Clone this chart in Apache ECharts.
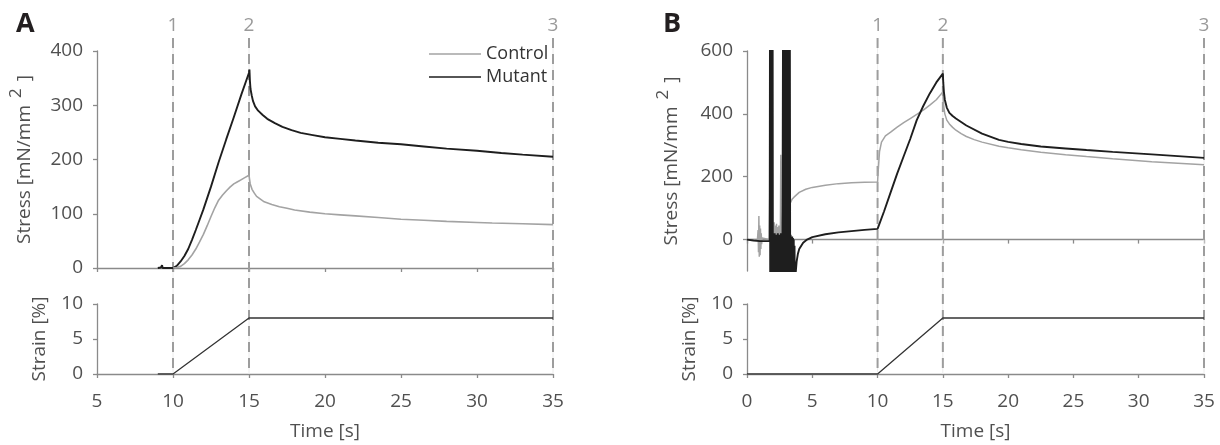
<!DOCTYPE html>
<html>
<head>
<meta charset="utf-8">
<script src="https://cdn.jsdelivr.net/npm/echarts@6/dist/echarts.min.js"></script>
<style>
html,body{margin:0;padding:0;background:#fff;}
#c{width:1220px;height:445px;}
</style>
</head>
<body>
<div id="c"></div>
<script>
// ---------- Panel A ----------
const aCtrlT = [10.0, 10.25, 10.5, 10.75, 11.0, 11.25, 11.5, 11.75, 12.0, 12.25, 12.5, 12.75, 13.0, 13.25, 13.5, 13.75, 14.0, 14.25, 14.5, 14.75, 15.0,
  15.03, 15.08, 15.2, 15.35, 15.5, 15.75, 16, 16.5, 17, 17.5, 18, 19, 20, 21, 22, 23.5, 25, 26.5, 28, 30, 31, 33, 35];
const aCtrlV = [0, 1, 3, 8, 15, 24, 35, 48, 62, 78, 95, 111, 125, 134, 142, 149, 155, 159, 163, 167, 171,
  165, 155, 145, 138, 132, 127, 122, 117, 113, 110, 107, 103, 100, 98, 96, 93, 90, 88, 86, 84, 83, 81.5, 80];
const aMutT = [9.0, 9.2, 9.28, 9.32, 9.4, 9.6, 10.0, 10.25, 10.5, 10.75, 11, 11.25, 11.5, 11.75, 12, 12.5, 13, 13.5, 14, 14.5, 15,
  15.03, 15.06, 15.1, 15.18, 15.26, 15.4, 15.6, 15.9, 16.2, 16.7, 17.2, 17.8, 18.4, 19.2, 20, 21, 22, 23.5, 25, 26.5, 28, 30, 31.6, 33, 35];
const aMutV = [0, 1, 5, 0, 1, 0, 0, 4, 12, 22, 35, 52, 70, 89, 108, 150, 195, 237, 278, 320, 360,
  366, 345, 330, 318, 308, 298, 290, 282, 275, 267, 260, 254, 249, 245, 241, 238, 235, 231, 228, 224, 220, 216, 212, 209, 205];
const aStrainT = [9.0, 10, 15, 35];
const aStrainV = [0, 0, 8, 8];

// ---------- Panel B ----------
const bMutT = [0, 0.5, 1.0, 1.5, 1.74,
  1.76, 1.78, 1.80, 1.82, 1.84, 1.86, 1.88, 1.90, 1.92, 1.94, 1.96, 1.98,
  2.00, 2.03, 2.06, 2.09, 2.12, 2.15, 2.18, 2.21, 2.24, 2.27, 2.30, 2.33, 2.36, 2.39, 2.42, 2.45, 2.48, 2.51, 2.54, 2.57, 2.60, 2.63, 2.66, 2.69, 2.72,
  2.76, 2.78, 2.80, 2.82, 2.84, 2.86, 2.88, 2.90, 2.92, 2.94, 2.96, 2.98, 3.00, 3.02, 3.04, 3.06, 3.08, 3.10, 3.12, 3.14, 3.16, 3.18, 3.20, 3.22, 3.24, 3.26, 3.28,
  3.31, 3.34, 3.37, 3.40, 3.43, 3.46, 3.49, 3.52, 3.55, 3.58, 3.61, 3.64, 3.67,
  3.72, 3.8, 3.9, 4.0, 4.3, 4.6, 5, 6, 7, 8, 9, 10,
  10.5, 11, 11.5, 12, 12.5, 13, 13.5, 14, 14.5, 15,
  15.03, 15.08, 15.15, 15.3, 15.5, 15.75, 16, 16.4, 16.8, 18, 19.3, 20, 21, 22.5, 24.4, 26, 28, 31, 33, 35];
const bMutV = [0, -3, -5, -5, -5,
  700, -200, 700, -200, 700, -200, 700, -200, 700, -200, 700, -200,
  15, -200, 10, -200, 20, -200, 5, -200, 15, -200, 10, -200, 20, -200, 5, -200, 15, -200, 10, -200, 20, -200, 5, -200, 10,
  700, -200, 700, -200, 700, -200, 700, -200, 700, -200, 700, -200, 700, -200, 700, -200, 700, -200, 700, -200, 700, -200, 700, -200, 700, -200, 700,
  -200, 15, -200, 10, -200, 10, -200, 5, -200, 0, -200, -20, -200,
  -110, -70, -45, -30, -10, 0, 8, 17, 23, 27, 31, 34,
  90, 150, 210, 265, 320, 380, 425, 465, 500, 528,
  500, 470, 445, 420, 403, 393, 385, 374, 363, 337, 317, 311, 304, 296, 290, 285, 279, 271, 265.5, 260];

const bCtrlT = [0, 0.8, 0.85, 0.88, 0.91, 0.94, 0.97, 1.0, 1.03, 1.06, 1.09, 1.12, 1.15, 1.2, 1.7,
  1.83, 1.86, 1.95, 1.97,
  2.02, 2.05, 2.08, 2.11, 2.14, 2.17, 2.20, 2.23, 2.26, 2.29, 2.32, 2.35, 2.38, 2.41, 2.44, 2.47, 2.50, 2.53, 2.56, 2.59, 2.62, 2.65, 2.68, 2.71,
  2.95, 2.98, 3.18, 3.21,
  3.30, 3.45, 3.6, 4.0, 4.5, 5, 6, 7, 8, 9, 10,
  10.05, 10.15, 10.3, 10.6, 11, 11.5, 12, 12.5, 13, 13.5, 14, 14.5, 15,
  15.03, 15.08, 15.15, 15.3, 15.5, 15.75, 16, 16.4, 16.8, 17.4, 18, 19.3, 20, 21, 22.5, 24.4, 26, 28, 31, 33, 35];
const bCtrlV = [0, 0, 30, -40, 75, -55, 45, -50, 35, -30, 20, -15, 5, 0, 0,
  420, -100, 650, -100,
  40, -60, 55, -80, 30, -50, 45, -90, 50, -70, 35, -60, 40, -80, 45, -100, 30, -70, 50, 270, -90, 40, -60, 20,
  600, -100, 520, -100,
  115, 128, 135, 150, 160, 166, 173, 178, 181, 182, 183,
  220, 280, 310, 330, 342, 358, 372, 385, 398, 412, 428, 445, 470,
  445, 420, 400, 380, 368, 357, 348, 337, 328, 318, 310, 297, 292, 286, 278, 270, 264, 257, 248, 243, 238];
const bStrainT = [0, 10, 15, 35];
const bStrainV = [0, 0, 8, 8];

// ---------- markers ----------
const markerTimes = [10, 15, 35];
const markerLabels = ['1', '2', '3'];
const stressTicksB = [0, 200, 400, 600];

const pairs = (t, v) => t.map((x, i) => [x, v[i]]);

const FONT = 'Open Sans';
const AX = '#8a8a8a';
const TXT = '#505050';
const CTRL = '#a3a3a3';
const MUT = '#1e1e1e';
const FS = 19;

function xAxisCfg(grid, min, showLabels, name) {
  return {
    type: 'value', gridIndex: grid, min: min, max: 35, interval: 5,
    axisLine: {onZero: true, lineStyle: {color: AX, width: 1.3}},
    axisTick: {show: true, inside: false, length: 4, lineStyle: {color: AX, width: 1.3}},
    axisLabel: {show: showLabels, color: TXT, fontSize: FS, fontFamily: FONT, margin: 18},
    splitLine: {show: false},
    name: name || '', nameLocation: 'middle', nameGap: 48,
    nameTextStyle: {color: TXT, fontSize: FS, fontFamily: FONT}
  };
}
const stressName = '{a|Stress [mN/mm}{s|2}{a|]}';
const stressRich = {
  a: {color: TXT, fontSize: FS, fontFamily: FONT},
  s: {color: TXT, fontSize: 17, fontFamily: FONT, padding: [0, 7, 16, 7]}
};
function yAxisCfg(grid, min, max, interval, name, gap, rich, extra) {
  const c = {
    type: 'value', gridIndex: grid, min: min, max: max, interval: interval,
    axisLine: {show: true, lineStyle: {color: AX, width: 1.3}},
    axisTick: {show: true, length: 4, lineStyle: {color: AX, width: 1.3}},
    axisLabel: {color: TXT, fontSize: FS, fontFamily: FONT, margin: 14},
    splitLine: {show: false},
    name: name, nameLocation: 'middle', nameGap: gap,
    nameTextStyle: Object.assign({color: TXT, fontSize: FS, fontFamily: FONT}, rich ? {rich: rich} : {})
  };
  if (extra) {
    c.axisLabel.customValues = extra;
    c.axisTick.customValues = extra;
  }
  return c;
}

const chart = echarts.init(document.getElementById('c'), null, {renderer: 'canvas'});
const option = {
  animation: false,
  backgroundColor: '#fff',
  title: [
    {text: 'A', left: 11, top: 6, textStyle: {fontSize: 27, fontWeight: 'bold', color: '#231f20', fontFamily: FONT}},
    {text: 'B', left: 658, top: 6, textStyle: {fontSize: 27, fontWeight: 'bold', color: '#231f20', fontFamily: FONT}}
  ],
  legend: {
    data: ['Control', 'Mutant'], orient: 'vertical', left: 424, top: 40,
    icon: 'rect', itemWidth: 52, itemHeight: 1.6, itemGap: 5,
    textStyle: {color: '#333', fontSize: 18, fontFamily: FONT}
  },
  grid: [
    {left: 97, width: 456, top: 51, height: 217},
    {left: 97, width: 456, top: 304, height: 70},
    {left: 747, width: 457, top: 51, height: 220},
    {left: 747, width: 457, top: 304, height: 70}
  ],
  xAxis: [
    xAxisCfg(0, 5, false),
    xAxisCfg(1, 5, true, 'Time [s]'),
    xAxisCfg(2, 0, false),
    xAxisCfg(3, 0, true, 'Time [s]')
  ],
  yAxis: [
    yAxisCfg(0, 0, 400, 100, stressName, 56, stressRich),
    yAxisCfg(1, 0, 10, 5, 'Strain [%]', 48),
    yAxisCfg(2, -100, 600, 100, stressName, 59, stressRich, stressTicksB),
    yAxisCfg(3, 0, 10, 5, 'Strain [%]', 48)
  ],
  series: [
    {name: 'Mutant', type: 'line', xAxisIndex: 0, yAxisIndex: 0, data: pairs(aMutT, aMutV), showSymbol: false, color: MUT, lineStyle: {color: MUT, width: 1.9}, z: 3},
    {name: 'Control', type: 'line', xAxisIndex: 0, yAxisIndex: 0, data: pairs(aCtrlT, aCtrlV), showSymbol: false, color: CTRL, lineStyle: {color: CTRL, width: 1.6}, z: 4},
    {name: 'StrainA', type: 'line', xAxisIndex: 1, yAxisIndex: 1, data: pairs(aStrainT, aStrainV), showSymbol: false, color: MUT, lineStyle: {color: '#333', width: 1.3}, z: 3},
    {name: 'Control', type: 'line', xAxisIndex: 2, yAxisIndex: 2, data: pairs(bCtrlT, bCtrlV), showSymbol: false, color: CTRL, lineStyle: {color: CTRL, width: 1.5}, z: 3, clip: true},
    {name: 'Mutant', type: 'line', xAxisIndex: 2, yAxisIndex: 2, data: pairs(bMutT, bMutV), showSymbol: false, color: MUT, lineStyle: {color: MUT, width: 1.9}, z: 4, clip: true},
    {name: 'StrainB', type: 'line', xAxisIndex: 3, yAxisIndex: 3, data: pairs(bStrainT, bStrainV), showSymbol: false, color: MUT, lineStyle: {color: '#333', width: 1.3}, z: 3}
  ]
};
chart.setOption(option);

// Event markers spanning both sub-plots, positioned through the axes' scales
function markerGraphics(xIdx, yTopIdx, yTopVal, yBotIdx) {
  const els = [];
  const yTop = chart.convertToPixel({yAxisIndex: yTopIdx}, yTopVal) - 13;
  const yBot = chart.convertToPixel({yAxisIndex: yBotIdx}, 0);
  markerTimes.forEach((t, i) => {
    const x = chart.convertToPixel({xAxisIndex: xIdx}, t);
    els.push({type: 'line', z: 1, shape: {x1: x, y1: yTop, x2: x, y2: yBot}, style: {stroke: '#ececec', lineWidth: 1}});
    els.push({type: 'line', z: 2, shape: {x1: x, y1: yTop, x2: x, y2: yBot}, style: {stroke: '#9d9d9d', lineWidth: 2, lineDash: [10, 6]}});
    els.push({type: 'text', z: 2, x: x, y: yTop - 12, style: {text: markerLabels[i], fill: '#9a9a9a', fontSize: 19, fontFamily: FONT, align: 'center', verticalAlign: 'middle'}});
  });
  return els;
}
chart.setOption({graphic: {elements: markerGraphics(0, 0, 400, 1).concat(markerGraphics(2, 2, 600, 3))}});
</script>
</body>
</html>
